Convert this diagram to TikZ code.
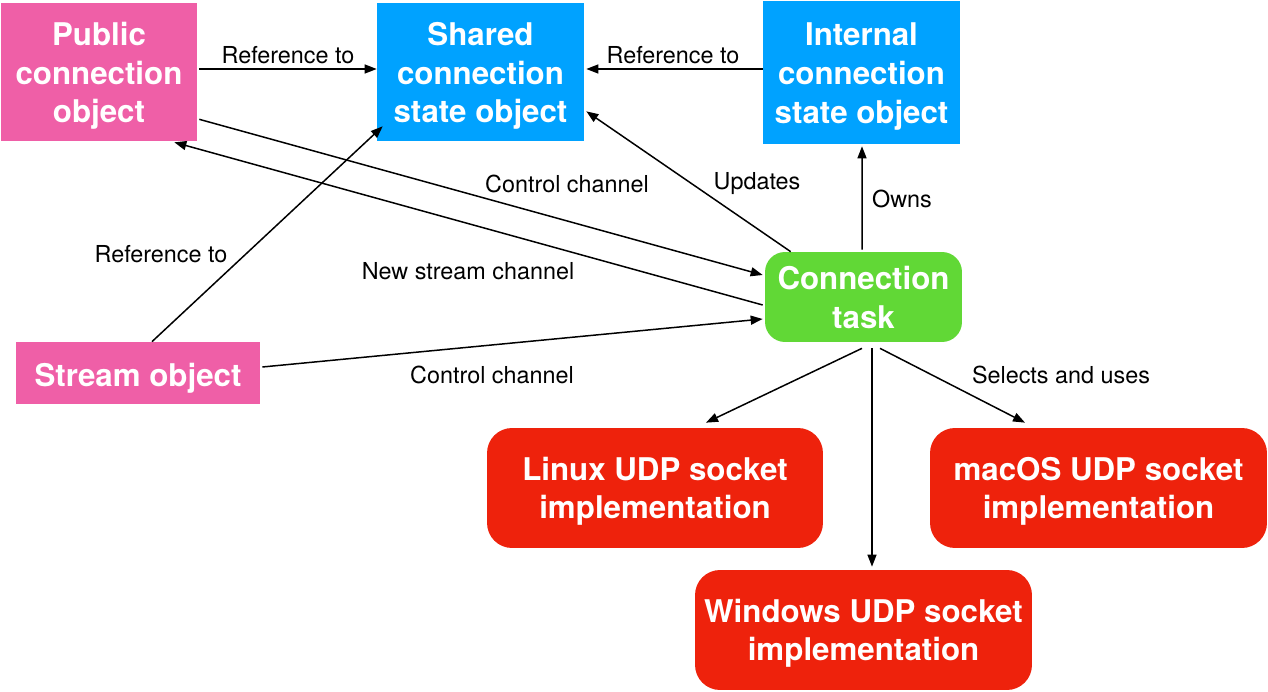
\documentclass[tikz,border=0pt]{standalone}
\usepackage{fontspec}
\setmainfont{TeX Gyre Heros}
\usetikzlibrary{arrows.meta,calc}
\definecolor{kpink}{HTML}{EF5FA7}
\definecolor{kblue}{HTML}{00A2FF}
\definecolor{kgreen}{HTML}{61D836}
\definecolor{kred}{HTML}{EE220C}
\newcommand\bxt[2][2.5pt]{\raisebox{-#1}[\height][\depth]{\begin{tabular}{@{}c@{}}#2\end{tabular}}}
\begin{document}
\begin{tikzpicture}[x=0.02cm,y=-0.02cm,
  box/.style={inner sep=0pt,text=white,
    font=\fontsize{17.8}{22}\selectfont\bfseries},
  lbl/.style={inner sep=0pt,font=\fontsize{13.3}{16}\selectfont},
  conn/.style={line width=0.85pt,-{Triangle[length=0.24cm,width=0.18cm]}}]
\useasboundingbox[fill=white] (0,0) rectangle (1268,692);
\node[box,fill=kpink,minimum width=3.92cm,minimum height=2.76cm] (pub) at (99,72) {\bxt{Public\\connection\\object}};
\node[box,fill=kblue,minimum width=4.14cm,minimum height=2.76cm] (shared) at (480.5,72) {\bxt{Shared\\connection\\state object}};
\node[box,fill=kblue,minimum width=3.94cm,minimum height=2.86cm] (internal) at (861.5,72.5) {\bxt{Internal\\connection\\state object}};
\node[box,fill=kgreen,rounded corners=0.4cm,minimum width=3.94cm,minimum height=1.8cm] (task) at (863.5,297) {\bxt[2.3pt]{Connection\\task}};
\node[box,fill=kpink,minimum width=4.88cm,minimum height=1.24cm] (stream) at (138,373) {\bxt[3.4pt]{Stream object}};
\node[box,fill=kred,rounded corners=0.5cm,minimum width=6.72cm,minimum height=2.4cm] (linux) at (655,488) {\bxt[2.1pt]{Linux UDP socket\\implementation}};
\node[box,fill=kred,rounded corners=0.5cm,minimum width=6.74cm,minimum height=2.4cm] (macos) at (1098.5,488) {\bxt[2.1pt]{macOS UDP socket\\implementation}};
\node[box,fill=kred,rounded corners=0.5cm,minimum width=6.74cm,minimum height=2.4cm] (windows) at (863.5,630) {\bxt[2.1pt]{Windows UDP socket\\implementation}};

\draw[conn] ($(pub.east)+(2,-3)$) -- ($(shared.west)+(0,-3)$);
\draw[conn] ($(internal.west)+(0,-3.5)$) -- ($(shared.east)+(2,-3)$);
\draw[conn] ($(task.north)+(-1.5,-2)$) -- ($(internal.south)+(0.5,2)$);
\draw[conn] ($(task.north west)+(26,0)$) -- ($(shared.south east)+(2,-30)$);
\draw[conn] ($(pub.south east)+(2,-22)$) -- ($(task.west)+(-2,-22)$);
\draw[conn] ($(task.west)+(-2,8)$) -- ($(pub.south east)+(-23,1)$);
\draw[conn] ($(stream.north)+(14,0)$) -- ($(shared.south west)+(6,-15)$);
\draw[conn] ($(stream.east)+(2,-6)$) -- ($(task.west)+(-2,22)$);
\draw[conn] ($(task.south)+(-1.5,6)$) -- ($(linux.north)+(51,-5)$);
\draw[conn] ($(task.south)+(8.5,6)$) -- ($(windows.north)+(8.5,-3)$);
\draw[conn] ($(task.south)+(16.5,6)$) -- ($(macos.north)+(-73.5,-5)$);

\node[lbl] (l1) at (288,55) {Reference to};
\node[lbl] (l2) at (673,55) {Reference to};
\node[lbl] (l3) at (902,199) {Owns};
\node[lbl] (l4) at (757,184) {Updates};
\node[lbl] (l5) at (567,184) {Control channel};
\node[lbl] (l6) at (468,271) {New stream channel};
\node[lbl] (l7) at (161,254) {Reference to};
\node[lbl] (l8) at (492,375) {Control channel};
\node[lbl] (l9) at (1061,375) {Selects and uses};
\end{tikzpicture}
\end{document}
